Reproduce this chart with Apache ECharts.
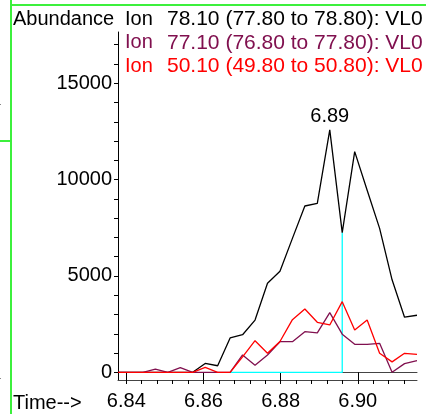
<!DOCTYPE html>
<html><head><meta charset="utf-8">
<script src="https://cdn.jsdelivr.net/npm/echarts@6/dist/echarts.min.js"></script>
<style>html,body{margin:0;padding:0;background:#fff}#c{width:426px;height:414px}</style>
</head><body><div id="c"></div>
<script>
// Retention times (min)
const times = [6.83785,6.84108,6.84431,6.84754,6.85077,6.85400,6.85722,6.86045,6.86368,6.86691,
  6.87014,6.87337,6.87660,6.87983,6.88306,6.88628,6.88951,6.89274,6.89597,6.89920,
  6.90243,6.90566,6.90889,6.91212,6.91535];
// Ion 78.10
const ion78 = [0,0,0,0,0,0,0,460,340,1780,1950,2710,4620,5240,6950,8630,8770,12580,7250,11450,9450,7470,4800,2860,2960];
// Ion 77.10
const ion77 = [0,0,0,170,0,240,0,0,0,0,898,370,898,1588,1588,2110,2050,3100,1980,1453,1453,1505,0,450,602];
// Ion 50.10
const ion50 = [0,0,0,0,0,0,0,250,0,0,800,1640,990,1600,2730,3285,2595,2455,3665,2195,2714,986,540,986,934];
const legendTexts = ["78.10 (77.80 to 78.80): VL0","77.10 (76.80 to 77.80): VL0","50.10 (49.80 to 50.80): VL0"];
const colors = ["#000000","#80104f","#ff0000"];
const xLabels = [6.84,6.86,6.88,6.90];
const xMinor = [6.840,6.844,6.848,6.852,6.856,6.860,6.864,6.868,6.872,6.876,6.880,6.884,6.888,6.892,6.896,6.900,6.904,6.908,6.912];
const yLabels = [0,5000,10000,15000];
const yMinor = [0,1000,2000,3000,4000,5000,6000,7000,8000,9000,10000,11000,12000,13000,14000,15000,16000,17000];
const peakIndex = 17;          // apex scan of ion 78.10
const intStart = 9, intEnd = 18; // integration window (scan indices)

const font = "Liberation Sans, Arial, sans-serif";
const chart = echarts.init(document.getElementById('c'), null, {renderer:'canvas'});
const pair = arr => arr.map((v,i)=>[times[i], v]);
const cyan = [[times[intStart],0],[times[intEnd],0],[times[intEnd],ion78[intEnd]]];

const xCommon = {type:'value', min:times[0], max:times[times.length-1], position:'bottom',
  splitLine:{show:false}, axisLine:{show:true, lineStyle:{color:'#444', width:1}}};
const hdr = [];
hdr.push({type:'text', left:13, top:9, style:{text:'Abundance', font:'20px '+font, fill:'#000'}});
legendTexts.forEach((t,i)=>{
  hdr.push({type:'text', left:125, top:9+i*23.5, style:{text:'Ion', font:'20px '+font, fill:colors[i]}});
  hdr.push({type:'text', left:167, top:9+i*23.5, style:{text:t, font:'21px '+font, fill:colors[i]}});
});
hdr.push({type:'text', left:13, top:393, style:{text:'Time-->', font:'20px '+font, fill:'#000'}});
// green frame decorations
hdr.push({type:'line', shape:{x1:11,y1:0,x2:11,y2:414}, style:{stroke:'#3cf03c', lineWidth:2}, z:10});
hdr.push({type:'line', shape:{x1:11,y1:5,x2:426,y2:5}, style:{stroke:'#3cf03c', lineWidth:2}, z:10});
hdr.push({type:'line', shape:{x1:0,y1:141,x2:11,y2:141}, style:{stroke:'#3cf03c', lineWidth:2}, z:10});
hdr.push({type:'rect', shape:{x:0,y:104,width:1,height:1}, style:{fill:'#888'}});
hdr.push({type:'rect', shape:{x:0,y:378,width:1,height:1}, style:{fill:'#888'}});

chart.setOption({
  animation:false,
  backgroundColor:'#fff',
  grid:{left:118, right:9, top:32, bottom:34, containLabel:false},
  xAxis:[
    Object.assign({}, xCommon, {
      axisTick:{show:true, length:8, inside:false, customValues:xLabels, lineStyle:{color:'#000'}},
      axisLabel:{show:true, customValues:xLabels, margin:11, fontFamily:font, fontSize:20, color:'#000', formatter:v=>v.toFixed(2)}
    }),
    Object.assign({}, xCommon, {
      axisTick:{show:true, length:4, customValues:xMinor, lineStyle:{color:'#000'}},
      axisLabel:{show:false}
    })
  ],
  yAxis:{type:'value', min:-400, max:17660,
    splitLine:{show:false},
    axisLine:{show:true, lineStyle:{color:'#000', width:1}},
    axisTick:{show:true, length:4, customValues:yMinor, lineStyle:{color:'#000'}},
    axisLabel:{show:true, customValues:yLabels, margin:6, fontFamily:font, fontSize:20, color:'#000', formatter:v=>String(v)}
  },
  series:[
    {type:'line', data:cyan, symbol:'none', lineStyle:{color:'#00ffff', width:1.3}, z:1},
    {type:'line', data:pair(ion78), symbol:'none', lineStyle:{color:colors[0], width:1.3}, z:2,
      markPoint:{symbol:'circle', symbolSize:0, silent:true,
        data:[{coord:[times[peakIndex], ion78[peakIndex]]}],
        label:{show:true, position:'top', distance:3, formatter:times[peakIndex].toFixed(2), fontFamily:font, fontSize:20, color:'#000'}}},
    {type:'line', data:pair(ion77), symbol:'none', lineStyle:{color:colors[1], width:1.3}, z:3},
    {type:'line', data:pair(ion50), symbol:'none', lineStyle:{color:colors[2], width:1.3}, z:4}
  ],
  graphic:hdr
});
</script></body></html>
